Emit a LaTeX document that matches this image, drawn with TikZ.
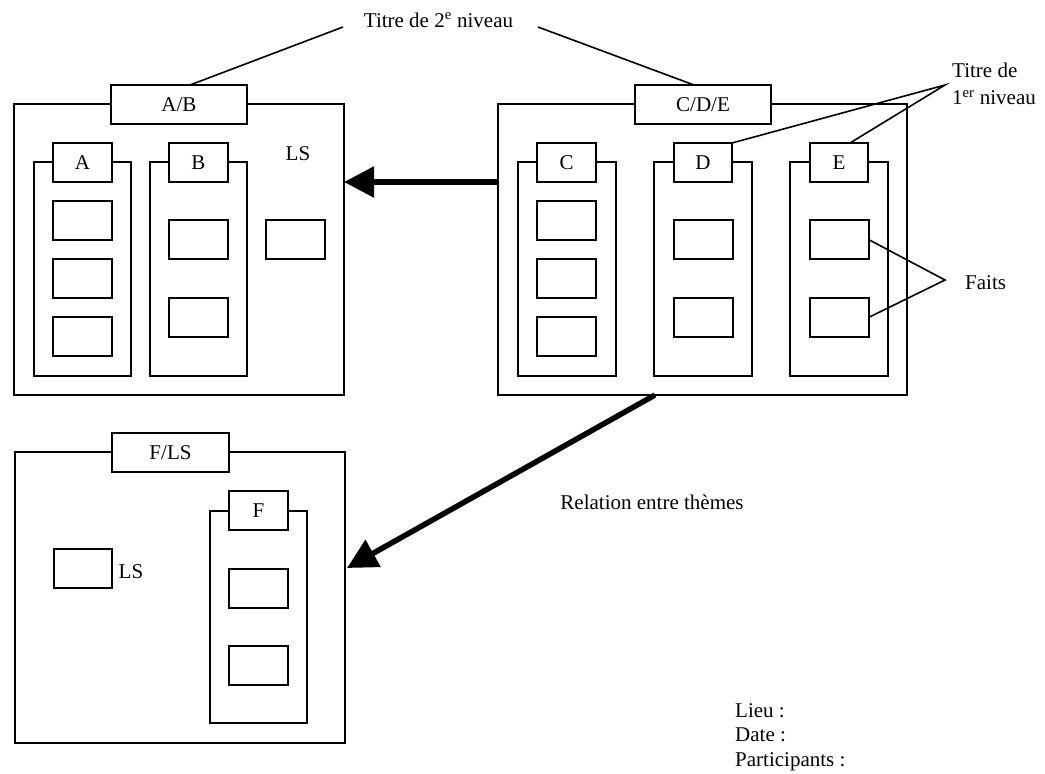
\documentclass[tikz,border=0pt]{standalone}
\usepackage{fontspec}
\setmainfont{Liberation Serif}
\usetikzlibrary{arrows.meta,calc}
\begin{document}
\begin{tikzpicture}[x=1pt,y=-1pt,
  every node/.style={font=\fontsize{21}{25}\selectfont},
  frame/.style={draw, line width=2pt, inner sep=0pt, outer sep=0pt},
  tag/.style={frame, fill=white, minimum height=39pt},
  coltag/.style={tag, minimum width=59pt},
  col/.style={frame, minimum width=97pt, minimum height=214pt},
  fact/.style={frame, fill=white, minimum width=59pt, minimum height=39pt},
  lbl/.style={inner sep=0pt},
  lead/.style={line width=1.6pt},
  rel/.style={line width=5.5pt, -{Triangle[length=30pt,width=30pt]}}]
\useasboundingbox (0,0) rectangle (1045,774);

% ---------- A/B theme ----------
\node[frame, minimum width=330pt, minimum height=291pt] (AB) at (179,249.5) {};
\node[tag, minimum width=136pt] (ABt) at (179,104.5) {A/B};
\node[col] (colA) at (82.5,269) {};
\node[coltag] (At) at (82.5,162.5) {A};
\node[fact] (A1) at (82.5,220.5) {};
\node[fact] (A2) at (82.5,278.5) {};
\node[fact] (A3) at (82.5,336.5) {};
\node[col] (colB) at (198.5,269) {};
\node[coltag] (Bt) at (198.5,162.5) {B};
\node[fact] (B1) at (198.5,239.5) {};
\node[fact] (B2) at (198.5,317.5) {};
\node[lbl] (LS1) at (298,154) {LS};
\node[fact] (LSf1) at (295.5,239.5) {};

% ---------- C/D/E theme ----------
\node[frame, minimum width=409pt, minimum height=291pt] (CDE) at (702.5,249.5) {};
\node[tag, minimum width=136pt] (CDEt) at (703,104.5) {C/D/E};
\node[col, minimum width=98pt] (colC) at (567,269) {};
\node[coltag] (Ct) at (566.5,162.5) {C};
\node[fact] (C1) at (566.5,220.5) {};
\node[fact] (C2) at (566.5,278.5) {};
\node[fact] (C3) at (566.5,336.5) {};
\node[col, minimum width=98pt] (colD) at (703,269) {};
\node[coltag, minimum width=58pt] (Dt) at (703,162.5) {D};
\node[fact] (D1) at (703,239.5) {};
\node[fact] (D2) at (703,317.5) {};
\node[col, minimum width=98pt] (colE) at (839,269) {};
\node[coltag, minimum width=58pt] (Et) at (839,162.5) {E};
\node[fact] (E1) at (839,239.5) {};
\node[fact] (E2) at (839,317.5) {};

% ---------- F/LS theme ----------
\node[frame, minimum width=330pt, minimum height=291pt] (FLS) at (179.5,597.5) {};
\node[tag, minimum width=117pt] (FLSt) at (170.5,452.5) {F/LS};
\node[col, minimum height=212pt] (colF) at (258.5,617) {};
\node[coltag] (Ft) at (258.5,510.5) {F};
\node[fact] (F1) at (258.5,588.5) {};
\node[fact] (F2) at (258.5,665.5) {};
\node[fact, minimum width=58pt] (LSf2) at (83,568.5) {};
\node[lbl, anchor=west] (LS2) at (118.5,572) {LS};

% ---------- relations ----------
\draw[rel] (CDE.west |- Ct.south) -- (AB.east |- Ct.south);
\coordinate (r0) at (655,395);
\coordinate (r1) at (347,568);
\draw[rel] (r0) -- (r1);
\node[lbl] (reltxt) at (652,502) {Relation entre thèmes};

% ---------- labels ----------
\node[lbl] (t2) at (438.5,20) {Titre de 2\textsuperscript{e} niveau};
\coordinate (t2a) at (343,27);
\coordinate (t2b) at (538,27);
\draw[lead] ($(ABt.north)+(11,0)$) -- (t2a);
\draw[lead] ($(CDEt.north)+(-9,0)$) -- (t2b);

\node[lbl, anchor=west, align=left, font=\fontsize{21}{27}\selectfont] (t1) at (952,84) {Titre de\\1\textsuperscript{er} niveau};
\coordinate (t1p) at (945,85);
\draw[lead] (Dt.north east) -- (t1p) -- ($(Et.north)+(11,0)$);

\node[lbl, anchor=west] (faits) at (965,283) {Faits};
\coordinate (fp) at (945,280);
\draw[lead] (E1.east) -- (fp) -- (E2.east);

\node[lbl, anchor=west, align=left, font=\fontsize{21}{24.5}\selectfont] (meta) at (735,737) {Lieu :\\Date :\\Participants :};
\end{tikzpicture}
\end{document}
